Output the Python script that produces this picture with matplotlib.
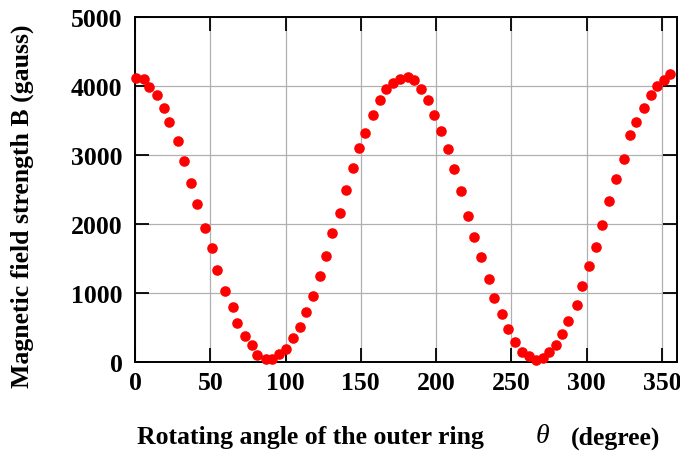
import matplotlib.pyplot as plt
import numpy as np

plt.rcParams['font.family'] = ['Liberation Serif', 'DejaVu Serif']
plt.rcParams['font.weight'] = 'bold'

# rotating angle (degree) and field strength (gauss)
angle = [0.7, 6.0, 9.3, 14.6, 19.2, 22.5, 28.5, 32.5, 37.1, 41.1,
         46.4, 51.0, 54.4, 59.7, 65.0, 67.6, 72.9, 77.6, 80.9, 86.8,
         90.8, 95.5, 100.1, 104.7, 109.4, 113.3, 118.0, 122.6, 126.6, 131.2,
         135.9, 139.9, 144.7, 149.1, 153.1, 158.0, 162.9, 166.8, 171.2, 176.1,
         181.2, 185.1, 190.0, 194.7, 198.4, 203.3, 207.9, 211.9, 216.6, 221.2,
         225.4, 229.6, 234.9, 238.4, 243.5, 248.1, 252.5, 257.0, 261.8, 266.3,
         270.7, 275.1, 279.5, 283.5, 287.9, 293.5, 297.2, 301.6, 306.4, 310.0,
         314.9, 319.7, 324.8, 328.6, 333.0, 338.3, 342.5, 346.9, 351.3, 355.3]
field = [4118, 4104, 3987, 3871, 3682, 3479, 3203, 2912, 2592, 2288,
         1939, 1649, 1329, 1024, 792, 559, 370, 240, 94, 36,
         36, 109, 182, 341, 501, 719, 951, 1242, 1533, 1867,
         2157, 2491, 2815, 3106, 3315, 3585, 3799, 3951, 4038, 4099,
         4126, 4094, 3959, 3803, 3581, 3344, 3083, 2792, 2472, 2118,
         1804, 1514, 1198, 927, 686, 468, 283, 138, 84, 26,
         55, 134, 244, 395, 584, 821, 1092, 1383, 1668, 1987,
         2332, 2651, 2946, 3295, 3479, 3683, 3876, 3998, 4094, 4176]

xticks = np.arange(0, 351, 50)
yticks = np.arange(0, 5001, 1000)

fig = plt.figure(figsize=(6.8, 4.56), dpi=100)
ax = fig.add_axes([0.1985, 0.205, 0.797, 0.755])

ax.plot(angle, field, 'o', color='#ff0000', markersize=6.6, zorder=3, clip_on=False)

ax.set_xlim(0, 360)
ax.set_ylim(0, 5000)
ax.set_xticks(xticks)
ax.set_yticks(yticks)
ax.grid(True, color='#b0b0b0', linewidth=0.9)
ax.set_axisbelow(True)
ax.tick_params(direction='in', length=10, width=1.3, top=True, right=True,
               labelsize=18.5, pad=7)
ax.tick_params(axis='y', pad=9)
for lab in ax.get_xticklabels() + ax.get_yticklabels():
    lab.set_fontweight('bold')
for s in ax.spines.values():
    s.set_linewidth(1.4)

W, H = 680, 456
fig.text(22 / W, 1 - 206 / H, 'Magnetic field strength B (gauss)', rotation=90,
         ha='center', va='center', fontsize=18.5, fontweight='bold')
ylab = 1 - 438 / H
fig.text(137 / W, ylab, 'Rotating angle of the outer ring', ha='left', va='center',
         fontsize=18.5, fontweight='bold')
fig.text(542 / W, ylab + 0.004, 'θ', ha='center', va='center', fontsize=20,
         fontweight='normal', fontstyle='italic')
fig.text(571 / W, ylab, '(degree)', ha='left', va='center',
         fontsize=18.5, fontweight='bold')

fig.savefig('out.png', dpi=100)
